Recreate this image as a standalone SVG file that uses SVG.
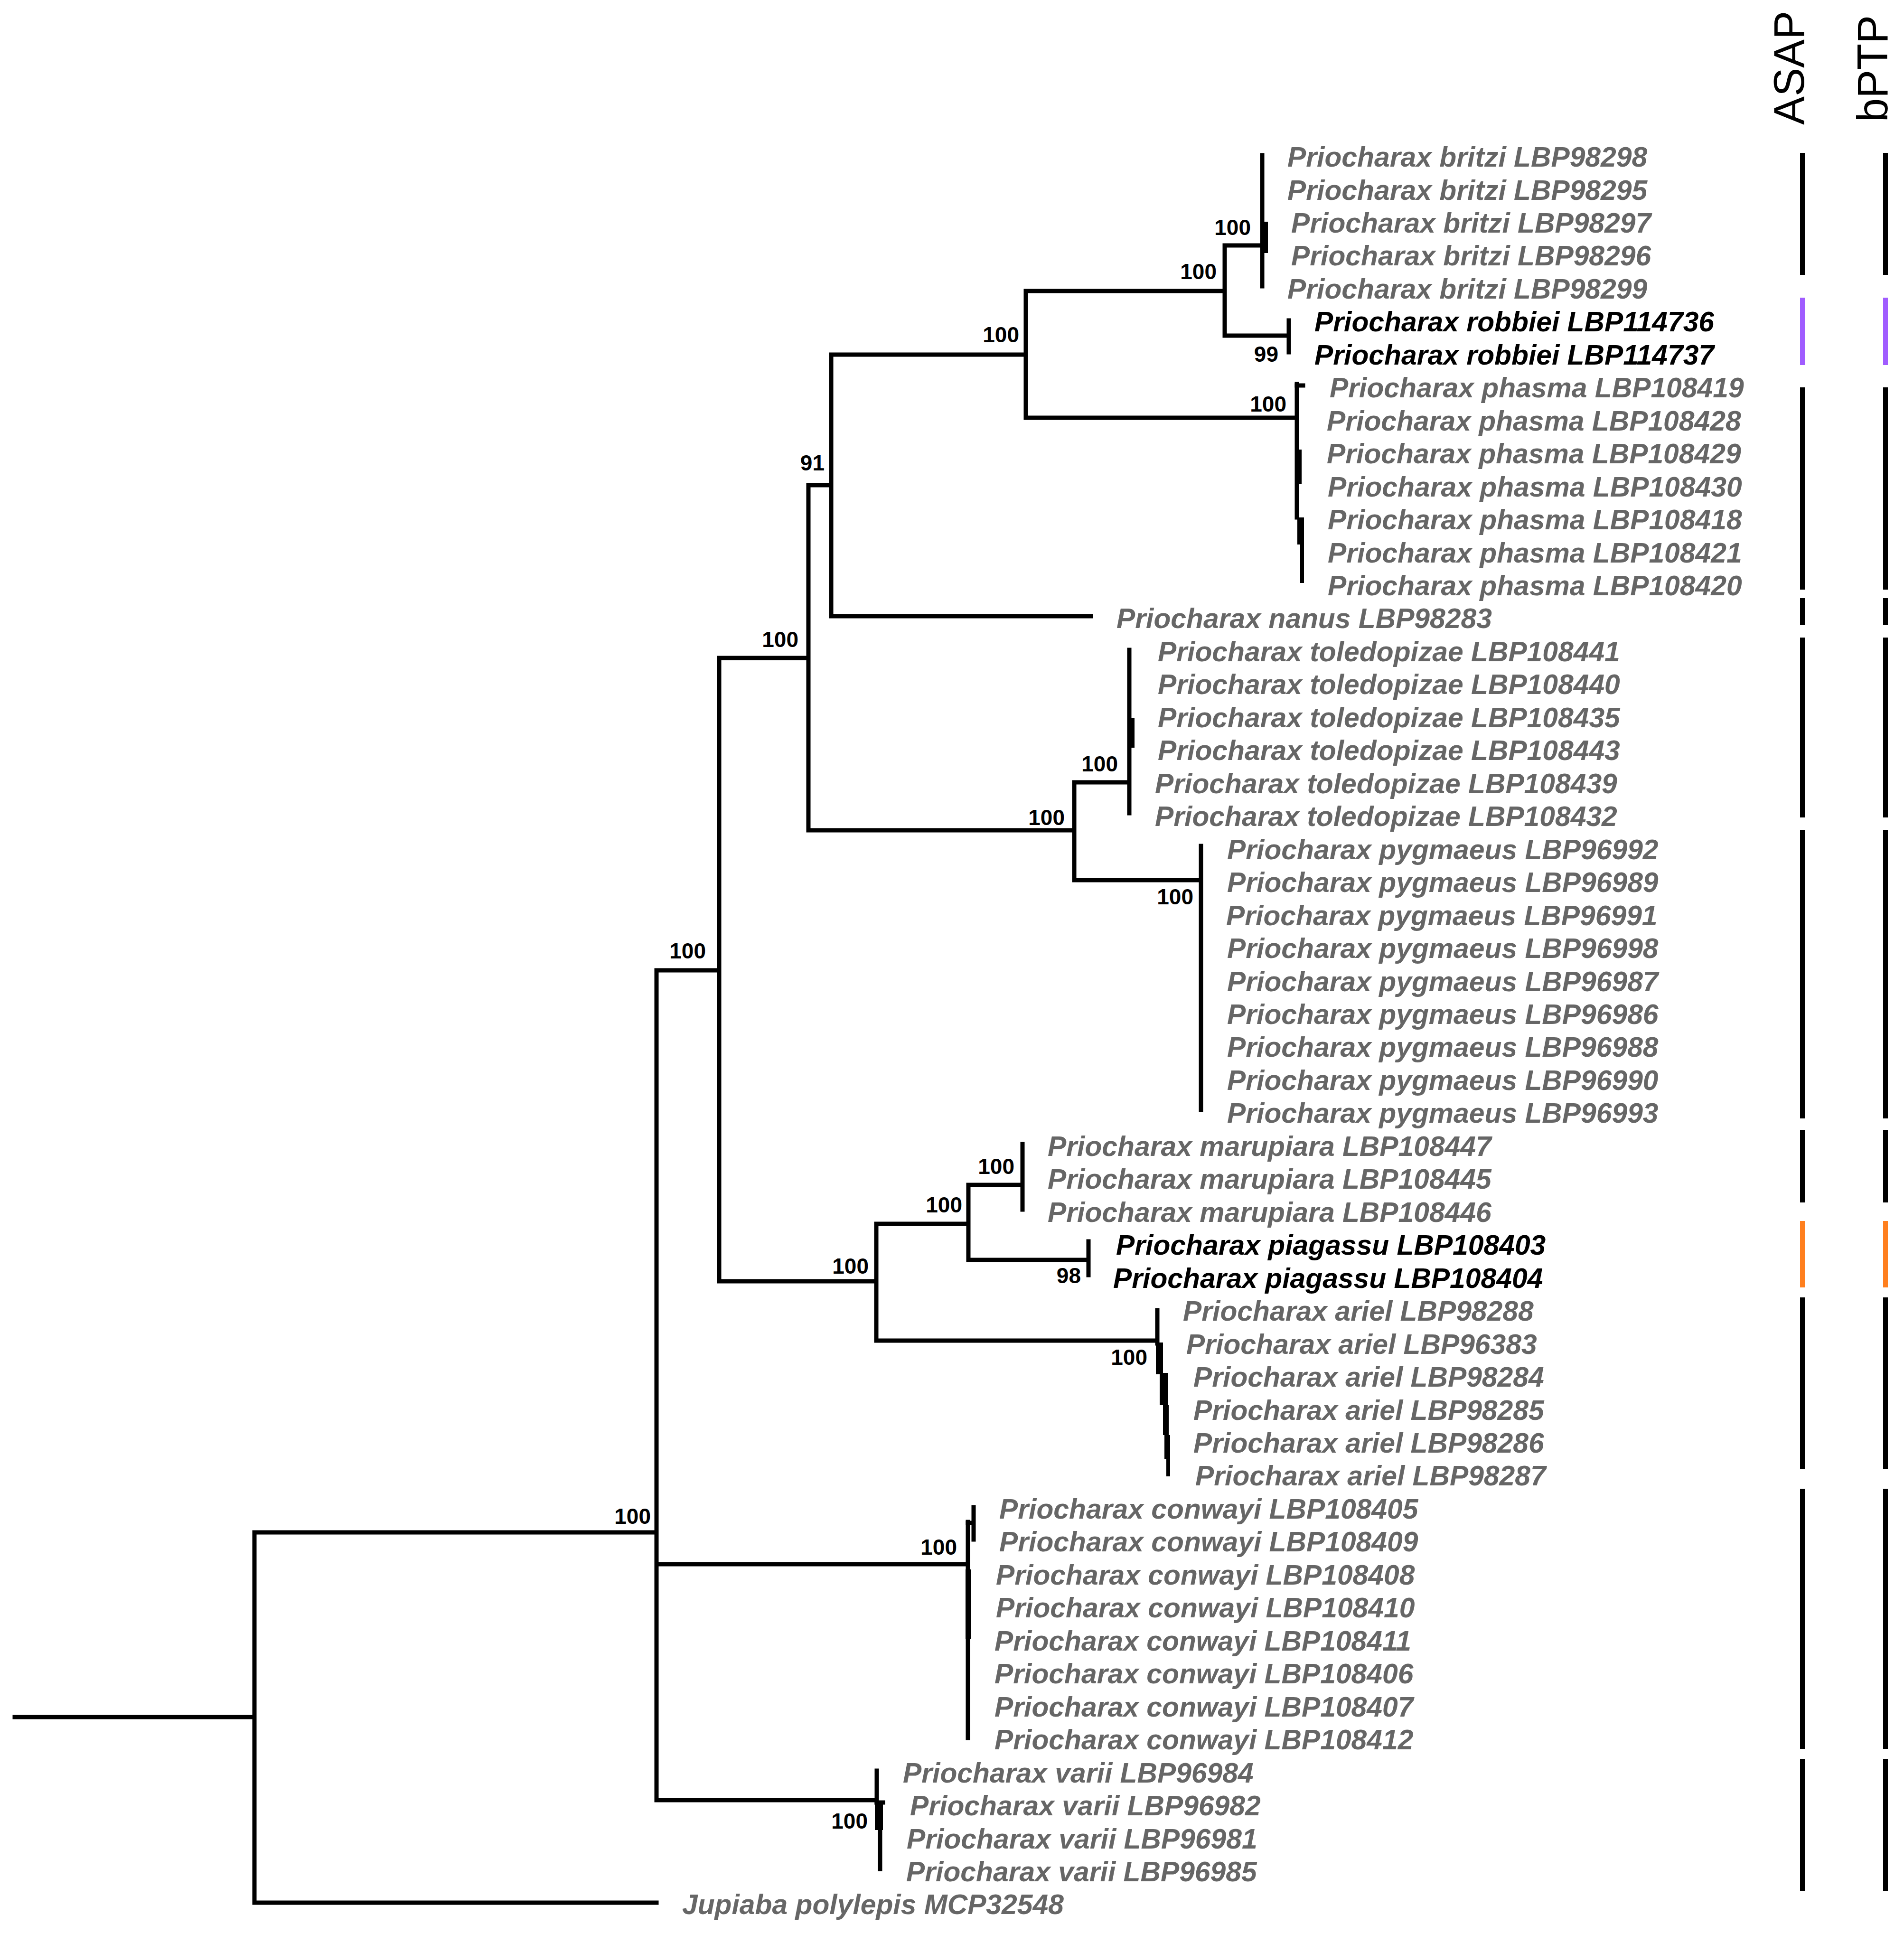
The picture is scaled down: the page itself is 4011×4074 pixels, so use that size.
<svg xmlns="http://www.w3.org/2000/svg" width="4011" height="4074" viewBox="0 0 4011 4074">
<style>
.t{font-family:"Liberation Sans",Arial,sans-serif;font-size:58.8px;font-weight:bold;font-style:italic;fill:#666}
.k{fill:#000}
.s{font-family:"Liberation Sans",Arial,sans-serif;font-size:46px;font-weight:bold;fill:#000;text-anchor:end}
.h{font-family:"Liberation Sans",Arial,sans-serif;font-size:90px;fill:#000}
.br{stroke:#000;stroke-width:9;fill:none;stroke-linecap:square}
.bar{stroke-width:10;fill:none}
.kb{stroke:#000}
.pu{stroke:#a05cff}
.or{stroke:#ff7f1e}
</style>
<rect width="4011" height="4074" fill="#fff"/>
<g id="connectors">
<path class="br" d="M31,3617H536 M536,3228V4008 M536,3228H1383 M536,4008H1383
M1383,2044V3792 M1383,2044H1515 M1383,3295H2038 M1383,3792H1847
M1515,1386V2699 M1515,1386H1703 M1515,2699H1846
M1703,1022V1749 M1703,1022H1751 M1703,1749H2263
M1751,747V1298 M1751,747H2161 M1751,1298H2298
M2161,613V880 M2161,613H2580 M2161,880H2732
M2580,517V707 M2580,517H2659 M2580,707H2715
M2659,327V603 M2715,675V742
M2732,809V1090
M2263,1648V1854 M2263,1648H2379 M2263,1854H2530
M2379,1369V1713 M2530,1782V2338
M1846,2578V2824 M1846,2578H2040 M1846,2824H2438
M2040,2496V2654 M2040,2496H2154 M2040,2654H2293
M2154,2410V2548 M2293,2615V2686
M2438,2760V2830
M2039,3206V3661 M2051,3175V3243
M1847,3730V3797 M1854,3855V3937"/>
<path class="br" stroke-width="6" d="M2732,812H2745 M2039,3208H2047 M1847,3797H1860"/>
<g fill="#000">
<rect x="2662" y="467" width="9" height="66"/>
<rect x="2728" y="947" width="14" height="73"/>
<rect x="2733" y="1090" width="14" height="57"/>
<rect x="2739" y="1147" width="8" height="81"/>
<rect x="2377" y="1512" width="13" height="63"/>
<rect x="2435" y="2828" width="15" height="67"/>
<rect x="2443" y="2892" width="17" height="68"/>
<rect x="2450" y="2960" width="12" height="63"/>
<rect x="2453" y="3023" width="12" height="50"/>
<rect x="2457" y="3073" width="8" height="37"/>
<rect x="2034" y="3306" width="11" height="146"/>
<rect x="1843" y="3797" width="17" height="58"/>
</g>
</g>
<g id="support">
<text class="s" x="2635" y="495">100</text>
<text class="s" x="2563" y="588">100</text>
<text class="s" x="2693" y="762">99</text>
<text class="s" x="2147" y="721">100</text>
<text class="s" x="2710" y="867">100</text>
<text class="s" x="1737" y="991">91</text>
<text class="s" x="1682" y="1363">100</text>
<text class="s" x="2355" y="1625">100</text>
<text class="s" x="2243" y="1738">100</text>
<text class="s" x="2514" y="1905">100</text>
<text class="s" x="1487" y="2019">100</text>
<text class="s" x="2137" y="2473">100</text>
<text class="s" x="2027" y="2554">100</text>
<text class="s" x="2277" y="2703">98</text>
<text class="s" x="1830" y="2683">100</text>
<text class="s" x="2417" y="2875">100</text>
<text class="s" x="1371" y="3210">100</text>
<text class="s" x="2016" y="3275">100</text>
<text class="s" x="1828" y="3852">100</text>
</g>
<g id="taxa">
<g id="n01"><text class="t" x="2712" y="351">Priocharax britzi LBP98298</text></g>
<g id="n02"><text class="t" x="2712" y="420.5">Priocharax britzi LBP98295</text></g>
<g id="n03"><text class="t" x="2720" y="489.9">Priocharax britzi LBP98297</text></g>
<g id="n04"><text class="t" x="2720" y="559.4">Priocharax britzi LBP98296</text></g>
<g id="n05"><text class="t" x="2712" y="628.8">Priocharax britzi LBP98299</text></g>
<g id="n06"><text class="t k" x="2769" y="698.3">Priocharax robbiei LBP114736</text></g>
<g id="n07"><text class="t k" x="2769" y="767.8">Priocharax robbiei LBP114737</text></g>
<g id="n08"><text class="t" x="2801" y="837.2">Priocharax phasma LBP108419</text></g>
<g id="n09"><text class="t" x="2795" y="906.7">Priocharax phasma LBP108428</text></g>
<g id="n10"><text class="t" x="2795" y="976.1">Priocharax phasma LBP108429</text></g>
<g id="n11"><text class="t" x="2797" y="1045.6">Priocharax phasma LBP108430</text></g>
<g id="n12"><text class="t" x="2797" y="1115.1">Priocharax phasma LBP108418</text></g>
<g id="n13"><text class="t" x="2797" y="1184.5">Priocharax phasma LBP108421</text></g>
<g id="n14"><text class="t" x="2797" y="1254">Priocharax phasma LBP108420</text></g>
<g id="n15"><text class="t" x="2352" y="1323.4">Priocharax nanus LBP98283</text></g>
<g id="n16"><text class="t" x="2439" y="1392.9">Priocharax toledopizae LBP108441</text></g>
<g id="n17"><text class="t" x="2439" y="1462.4">Priocharax toledopizae LBP108440</text></g>
<g id="n18"><text class="t" x="2439" y="1531.8">Priocharax toledopizae LBP108435</text></g>
<g id="n19"><text class="t" x="2439" y="1601.3">Priocharax toledopizae LBP108443</text></g>
<g id="n20"><text class="t" x="2433" y="1670.7">Priocharax toledopizae LBP108439</text></g>
<g id="n21"><text class="t" x="2433" y="1740.2">Priocharax toledopizae LBP108432</text></g>
<g id="n22"><text class="t" x="2585" y="1809.7">Priocharax pygmaeus LBP96992</text></g>
<g id="n23"><text class="t" x="2585" y="1879.1">Priocharax pygmaeus LBP96989</text></g>
<g id="n24"><text class="t" x="2583" y="1948.6">Priocharax pygmaeus LBP96991</text></g>
<g id="n25"><text class="t" x="2585" y="2018">Priocharax pygmaeus LBP96998</text></g>
<g id="n26"><text class="t" x="2585" y="2087.5">Priocharax pygmaeus LBP96987</text></g>
<g id="n27"><text class="t" x="2585" y="2157">Priocharax pygmaeus LBP96986</text></g>
<g id="n28"><text class="t" x="2585" y="2226.4">Priocharax pygmaeus LBP96988</text></g>
<g id="n29"><text class="t" x="2585" y="2295.9">Priocharax pygmaeus LBP96990</text></g>
<g id="n30"><text class="t" x="2585" y="2365.3">Priocharax pygmaeus LBP96993</text></g>
<g id="n31"><text class="t" x="2207" y="2434.8">Priocharax marupiara LBP108447</text></g>
<g id="n32"><text class="t" x="2207" y="2504.3">Priocharax marupiara LBP108445</text></g>
<g id="n33"><text class="t" x="2207" y="2573.7">Priocharax marupiara LBP108446</text></g>
<g id="n34"><text class="t k" x="2351" y="2643.2">Priocharax piagassu LBP108403</text></g>
<g id="n35"><text class="t k" x="2345" y="2712.6">Priocharax piagassu LBP108404</text></g>
<g id="n36"><text class="t" x="2492" y="2782.1">Priocharax ariel LBP98288</text></g>
<g id="n37"><text class="t" x="2499" y="2851.6">Priocharax ariel LBP96383</text></g>
<g id="n38"><text class="t" x="2514" y="2921">Priocharax ariel LBP98284</text></g>
<g id="n39"><text class="t" x="2514" y="2990.5">Priocharax ariel LBP98285</text></g>
<g id="n40"><text class="t" x="2514" y="3059.9">Priocharax ariel LBP98286</text></g>
<g id="n41"><text class="t" x="2518" y="3129.4">Priocharax ariel LBP98287</text></g>
<g id="n42"><text class="t" x="2105" y="3198.9">Priocharax conwayi LBP108405</text></g>
<g id="n43"><text class="t" x="2105" y="3268.3">Priocharax conwayi LBP108409</text></g>
<g id="n44"><text class="t" x="2098" y="3337.8">Priocharax conwayi LBP108408</text></g>
<g id="n45"><text class="t" x="2098" y="3407.2">Priocharax conwayi LBP108410</text></g>
<g id="n46"><text class="t" x="2095" y="3476.7">Priocharax conwayi LBP108411</text></g>
<g id="n47"><text class="t" x="2095" y="3546.2">Priocharax conwayi LBP108406</text></g>
<g id="n48"><text class="t" x="2095" y="3615.6">Priocharax conwayi LBP108407</text></g>
<g id="n49"><text class="t" x="2095" y="3685.1">Priocharax conwayi LBP108412</text></g>
<g id="n50"><text class="t" x="1902" y="3754.5">Priocharax varii LBP96984</text></g>
<g id="n51"><text class="t" x="1917" y="3824">Priocharax varii LBP96982</text></g>
<g id="n52"><text class="t" x="1910" y="3893.5">Priocharax varii LBP96981</text></g>
<g id="n53"><text class="t" x="1909" y="3962.9">Priocharax varii LBP96985</text></g>
<g id="n54"><text class="t" x="1437" y="4032.4">Jupiaba polylepis MCP32548</text></g>
</g>
<g id="headers">
<text class="h" transform="translate(3800,263) rotate(-90)">ASAP</text>
<text class="h" transform="translate(3976,257) rotate(-90)">bPTP</text>
</g>
<g id="asap">
<path class="bar kb" d="M3797,322V579 M3797,816V1242 M3797,1260V1317 M3797,1343V1722 M3797,1748V2356 M3797,2380V2533 M3797,2733V3094 M3797,3136V3684 M3797,3705V3983"/>
<path class="bar pu" d="M3797,627V769"/>
<path class="bar or" d="M3797,2572V2712"/>
</g>
<g id="bptp">
<path class="bar kb" d="M3972,322V579 M3972,816V1242 M3972,1260V1317 M3972,1343V1722 M3972,1748V2356 M3972,2380V2533 M3972,2733V3094 M3972,3136V3684 M3972,3705V3983"/>
<path class="bar pu" d="M3972,627V769"/>
<path class="bar or" d="M3972,2572V2712"/>
</g>
</svg>
